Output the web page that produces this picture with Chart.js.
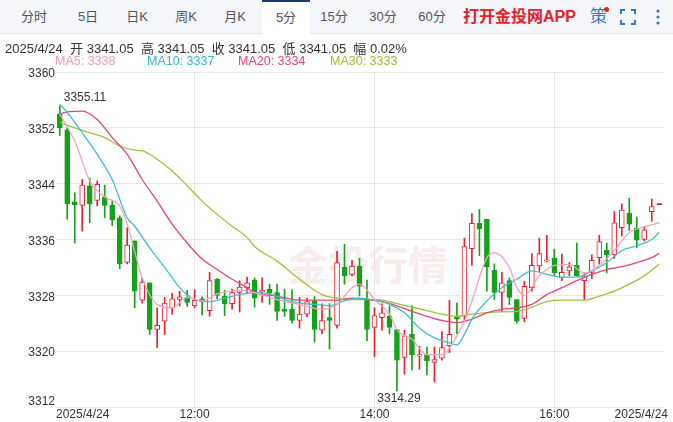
<!DOCTYPE html>
<html>
<head>
<meta charset="utf-8">
<script src="https://cdn.jsdelivr.net/npm/chart.js@4"></script>
<style>
  body { margin: 0; width: 673px; height: 422px; overflow: hidden; background: #fff;
         font-family: "Liberation Sans", "Noto Sans CJK SC", sans-serif; }
  #wrap { position: relative; width: 673px; height: 422px; }
  #chart { position: absolute; left: 0; top: 0; }
  .tabs { position: absolute; left: 0; top: 0; width: 673px; height: 33px; background: #f4f6fa;
          border-bottom: 1px solid #e3e7ee; z-index: 2; }
  .tab { position: absolute; top: 0; height: 33px; line-height: 34px; font-size: 13px; color: #555; text-align: center; }
  .tab.active { background: #fff; border-top: 2px solid #1e3a6a; height: 32px; line-height: 32px; }
  .app { position: absolute; left: 463px; top: 0; line-height: 34px; font-size: 16px; font-weight: bold; color: #e8202a; }
  .ce { position: absolute; left: 590px; top: 0; line-height: 34px; font-size: 17px; color: #3a76c8; }
  .dot { position: absolute; left: 604px; top: 7px; width: 5px; height: 5px; border-radius: 50%; background: #e8202a; }
  .info { position: absolute; left: 5px; top: 38px; font-size: 13px; color: #333; z-index: 2; }
  .ma { position: absolute; top: 54px; font-size: 12.5px; z-index: 2; }
</style>
</head>
<body>
<div id="wrap">
  <canvas id="chart" width="673" height="422"></canvas>
  <div class="tabs">
    <div class="tab" style="left:10px;width:48px">分时</div>
    <div class="tab" style="left:64px;width:48px">5日</div>
    <div class="tab" style="left:113px;width:48px">日K</div>
    <div class="tab" style="left:162px;width:48px">周K</div>
    <div class="tab" style="left:211px;width:48px">月K</div>
    <div class="tab active" style="left:262px;width:48px">5分</div>
    <div class="tab" style="left:310px;width:48px">15分</div>
    <div class="tab" style="left:359px;width:48px">30分</div>
    <div class="tab" style="left:408px;width:48px">60分</div>
    <div class="app">打开金投网APP</div>
    <div class="ce">策</div><div class="dot"></div>
    <svg style="position:absolute;left:620px;top:9px" width="16" height="16">
      <path d="M1 5V1h4M11 1h4v4M15 11v4h-4M5 15H1v-4" stroke="#3a76c8" stroke-width="2" fill="none"/>
    </svg>
    <svg style="position:absolute;left:655px;top:8px" width="6" height="18">
      <circle cx="3" cy="3" r="1.6" fill="#3a76c8"/><circle cx="3" cy="9" r="1.6" fill="#3a76c8"/><circle cx="3" cy="15" r="1.6" fill="#3a76c8"/>
    </svg>
  </div>
  <div class="info">2025/4/24&nbsp; 开 3341.05&nbsp; 高 3341.05&nbsp; 收 3341.05&nbsp; 低 3341.05&nbsp; 幅 0.02%</div>
  <div class="ma" style="left:55px;color:#f29bb6">MA5: 3338</div>
  <div class="ma" style="left:147px;color:#33b8c8">MA10: 3337</div>
  <div class="ma" style="left:238px;color:#e6457a">MA20: 3334</div>
  <div class="ma" style="left:330px;color:#9fbd35">MA30: 3333</div>
</div>
<script>
// 5-minute candles, 10:30 .. 17:10
const opens  = [3354,3351.7,3341.4,3340.9,3343.7,3341.6,3342.1,3340.9,3339.1,3332.7,3335.8,3327.3,3329.8,3323.1,3324.3,3326.2,3327.4,3327.7,3326.5,3327.5,
  3325.8,3330.3,3327.9,3326.8,3328.4,3329.1,3330.2,3328.5,3328.9,3328.4,3326,3326,3324.4,3325.3,3327.2,3323,3324.8,3323.7,3332,3331,
  3332.2,3327.4,3323.4,3324.8,3325,3323.1,3319.1,3322.4,3319.3,3319.5,3318.4,3319,3320.8,3324.9,3325.1,3334.7,3338.3,3338.9,3331.6,3328.4,
  3330.1,3327.4,3324.7,3329.1,3332.2,3332.9,3333.3,3330.5,3331.5,3332.3,3330.1,3331.3,3333.4,3334.5,3333.8,3337.7,3339.8,3337.6,3336,3340,3341.05];
const closes = [3352,3341.1,3341,3343.8,3341.1,3343.9,3340.9,3338.8,3332.5,3335.2,3328.6,3329.9,3323.1,3323.7,3326.9,3327.5,3327.8,3327,3327.3,3327.1,
  3330.1,3328,3326.8,3328.4,3329.2,3329.8,3327.6,3328.7,3328.3,3325.7,3325.7,3324.4,3325.3,3327.1,3323.1,3324.4,3324.4,3332.7,3330.8,3332.2,
  3329.3,3323.1,3325.1,3325.5,3323.4,3318.7,3322.2,3319.5,3319.5,3318.6,3318.8,3320.5,3322.4,3324.6,3335,3338.3,3337.5,3332.1,3328.4,3329.8,
  3327.7,3324.3,3329.3,3332.3,3334,3333.1,3331.2,3331.3,3332.1,3330.8,3330.8,3333,3335.7,3333.8,3338.4,3340.2,3338.2,3335.9,3337.4,3340.7,3341.05];
const highs  = [3355.11,3352,3342.7,3344.6,3344.8,3344.4,3343.8,3341.5,3339.4,3337.7,3335.8,3330.5,3329.8,3326.2,3327.7,3328.3,3328.6,3328.7,3328.8,3327.8,
  3331.3,3330.4,3328.7,3328.9,3330.1,3330.6,3330.5,3330.5,3329.6,3329.6,3328.9,3328.8,3327.7,3327.6,3327.8,3326.8,3326.8,3334.3,3335.3,3333,
  3333.3,3330.2,3326.2,3326.8,3326.5,3323.1,3323,3326.5,3320.7,3320.6,3320.6,3322.8,3327.3,3326.9,3336.2,3339.7,3340.3,3338.9,3332.5,3331.3,
  3330.5,3327.4,3330,3334,3336.2,3336.6,3334.6,3333.9,3332.7,3335.5,3331.2,3333.8,3336.6,3335.5,3340,3341.1,3341.9,3339.2,3337.8,3341.8,3341.05];
const lows   = [3350.9,3338.9,3335.5,3337.2,3338.4,3340.8,3339.1,3338,3331.8,3332.5,3326.2,3326.9,3322.4,3320.5,3322.4,3325.3,3326.5,3326.4,3326.2,3325.2,
  3325,3327.5,3325.1,3326,3325.6,3328.3,3326.3,3327,3326.7,3324.4,3325,3324,3323.3,3324.9,3321.3,3322.5,3320.3,3323.3,3329.6,3330.8,
  3327.9,3321.5,3319.2,3323,3322.5,3314.29,3316.7,3317.3,3317.4,3316.6,3315.6,3318.7,3319.8,3322.5,3324.3,3332.3,3333.7,3328.6,3327.4,3325.7,
  3326.7,3324,3324.2,3328.6,3331.4,3332.8,3330.8,3330.1,3330.8,3330.7,3327.4,3330.4,3332.5,3331.2,3333.3,3336.5,3337.3,3334.8,3335.8,3338.6,3341.05];

// moving averages: [candle number, value]
const ma5Points = [[1,3354],[3,3350.1],[5,3344.4],[7,3342.1],[9,3340.8],[10,3338.2],[12,3330.5],[14,3326.7],[16,3326.2],[18,3327.7],[20,3327.2],
  [22,3328.2],[25,3328.7],[27,3328.4],[30,3327.4],[33,3326.7],[36,3326],[38,3326.7],[40,3329.1],[41,3329.6],[43,3327.4],[45,3325.3],[46,3323.1],
  [48,3321.7],[50,3319.5],[52,3319.5],[54,3322.2],[55,3324.3],[56,3327.2],[58,3333.4],[59,3334.1],[61,3332],[62,3329.1],[63,3328],[65,3330.8],
  [67,3332.3],[69,3332.4],[71,3331.2],[73,3332.3],[75,3334.4],[77,3337],[79,3337.8],[81,3338.4]];
const ma10Points = [[1,3355.4],[2,3354.2],[4,3351.3],[6,3348.2],[8,3344.6],[10,3339.1],[11,3337.9],[13,3334.8],[15,3332],[17,3329.1],[19,3327.4],
  [21,3327.1],[23,3327.6],[25,3328.1],[27,3328.4],[29,3328.2],[31,3327.4],[33,3326.9],[35,3326.7],[37,3326.5],[39,3327.2],[41,3327.6],[43,3327.3],
  [45,3326.7],[47,3325.5],[49,3323.3],[51,3321.9],[53,3321.2],[54,3320.9],[55,3322.4],[56,3324.6],[58,3327.2],[60,3329.1],[62,3330.3],[64,3331.5],
  [66,3331],[68,3330.6],[70,3330.6],[72,3331.5],[74,3332.7],[76,3334.4],[78,3335.1],[80,3336],[81,3337]];
const ma20Points = [[1,3354],[2,3354.3],[4,3354.4],[6,3353.2],[8,3350.6],[10,3348.2],[12,3344.6],[14,3341.5],[16,3338.2],[18,3335.5],[20,3333.2],
  [22,3331.7],[24,3330.3],[26,3329.1],[27,3328.4],[30,3327.9],[33,3327.3],[36,3327.3],[38,3327.3],[40,3327.6],[42,3327.4],[44,3327.1],[46,3326.5],
  [48,3325.7],[50,3325],[52,3324.4],[54,3324.1],[56,3324.6],[58,3325.5],[60,3326],[62,3326.2],[64,3326.7],[66,3328.1],[68,3329.1],[70,3330.1],
  [72,3331],[74,3331.7],[76,3332.1],[78,3332.7],[80,3333.4],[81,3334]];
const ma30Points = [[1,3352.8],[3,3352],[5,3351.3],[7,3350.6],[9,3349.4],[11,3348.8],[12,3348.7],[14,3347.5],[16,3345.8],[18,3343.7],[20,3341.5],
  [22,3339.6],[24,3337.9],[26,3336.3],[27,3335],[30,3332.9],[33,3330.3],[36,3328.1],[38,3327.6],[40,3327.4],[42,3327.4],[44,3327.3],[46,3326.8],
  [48,3326.3],[50,3325.8],[52,3325.3],[54,3325],[56,3325.3],[59,3325.6],[62,3325.7],[64,3326.3],[66,3327.1],[68,3327.3],[71,3327.3],[73,3327.9],
  [75,3328.6],[77,3329.6],[79,3330.8],[81,3332.5]];

const yTicks = [3312, 3320, 3328, 3336, 3344, 3352, 3360];
const timeMarks = [[19, '12:00'], [43, '14:00'], [67, '16:00']];
const dateLabel = '2025/4/24';

const UP = '#e8202a', DOWN = '#13a21a';

// 10:30 + 5 min per candle
const labels = opens.map((o, i) => {
    const m = 10 * 60 + 30 + i * 5;
    return Math.floor(m / 60) + ':' + String(m % 60).padStart(2, '0');
});

function spread(points) {
    const arr = new Array(opens.length).fill(null);
    points.forEach(p => { arr[p[0] - 1] = p[1]; });
    return arr;
}

const bodies = opens.map((o, i) => {
    const c = closes[i];
    if (Math.abs(o - c) < 0.15) return [Math.min(o, c) - 0.08, Math.max(o, c) + 0.08];
    return [o, c];
});
const wicks = lows.map((l, i) => [l, highs[i]]);
const isUp = opens.map((o, i) => closes[i] >= o);

function maLine(label, points, color) {
    return {
        type: 'line', label: label, data: spread(points), borderColor: color, borderWidth: 1.3,
        pointRadius: 0, tension: 0.4, cubicInterpolationMode: 'monotone', spanGaps: true, order: 1
    };
}

// overlay texts: axis labels, extremes, watermark
const overlay = {
    id: 'overlay',
    beforeDatasetsDraw(chart) {
        const ctx = chart.ctx;
        ctx.save();
        ctx.font = 'bold 40px "Noto Sans CJK SC"';
        ctx.fillStyle = 'rgba(235,200,200,0.35)';
        ctx.textAlign = 'center';
        ctx.textBaseline = 'middle';
        ctx.fillText('金投行情', 368, 265);
        ctx.restore();
    },
    afterDraw(chart) {
        const ctx = chart.ctx;
        const x = chart.scales.x, y = chart.scales.y;
        ctx.save();
        ctx.font = '12px "Liberation Sans", sans-serif';
        ctx.fillStyle = '#333';
        ctx.textAlign = 'right';
        ctx.textBaseline = 'middle';
        yTicks.forEach(v => {
            let py = y.getPixelForValue(v);
            if (v === yTicks[0]) py -= 7;
            ctx.fillText(String(v), 55, py + 2);
        });
        ctx.textBaseline = 'top';
        ctx.textAlign = 'center';
        timeMarks.forEach(t => ctx.fillText(t[1], x.getPixelForValue(t[0] - 1), 409));
        ctx.textAlign = 'left';
        ctx.fillText(dateLabel, 56, 409);
        ctx.textAlign = 'right';
        ctx.fillText(dateLabel, 668, 409);

        const hi = Math.max(...highs), lo = Math.min(...lows);
        const hiI = highs.indexOf(hi), loI = lows.indexOf(lo);
        ctx.textAlign = 'left';
        ctx.textBaseline = 'bottom';
        ctx.fillText(hi.toFixed(2), x.getPixelForValue(hiI) + 4, y.getPixelForValue(hi) - 2);
        ctx.textAlign = 'center';
        ctx.textBaseline = 'top';
        ctx.fillText(lo.toFixed(2), x.getPixelForValue(loI) + 2, y.getPixelForValue(lo) + 2);

        // flat last candle marker
        const lx = x.getPixelForValue(opens.length - 1), ly = y.getPixelForValue(closes[closes.length - 1]);
        ctx.strokeStyle = '#333';
        ctx.beginPath(); ctx.moveTo(lx - 2, ly); ctx.lineTo(lx + 2, ly); ctx.stroke();
        ctx.restore();
    }
};

new Chart(document.getElementById('chart'), {
    type: 'bar',
    data: {
        labels: labels,
        datasets: [
            maLine('MA5', ma5Points, '#f4a3bc'),
            maLine('MA10', ma10Points, '#3ec0d0'),
            maLine('MA20', ma20Points, '#e6457a'),
            maLine('MA30', ma30Points, '#a3bf38'),
            {
                label: 'body', data: bodies, grouped: false, barThickness: 5, order: 2,
                backgroundColor: isUp.map(u => u ? '#ffffff' : DOWN),
                borderColor: isUp.map(u => u ? UP : DOWN),
                borderWidth: 1, borderSkipped: false
            },
            {
                label: 'wick', data: wicks, grouped: false, barThickness: 1, order: 3,
                backgroundColor: isUp.map(u => u ? UP : DOWN), borderWidth: 0
            }
        ]
    },
    options: {
        responsive: false,
        animation: false,
        layout: { padding: { left: 56, right: 10, top: 72, bottom: 15 } },
        plugins: { legend: { display: false }, tooltip: { enabled: false } },
        scales: {
            x: {
                offset: true,
                ticks: { display: false },
                border: { display: false },
                grid: {
                    drawTicks: false, offset: false,
                    color: ctx => timeMarks.some(t => t[0] - 1 === ctx.index) ? '#e6e6e6' : 'transparent'
                }
            },
            y: {
                min: 3312, max: 3360,
                afterFit: s => { s.width = 0; },
                ticks: { display: false, stepSize: 8 },
                border: { display: false },
                grid: { drawTicks: false, color: '#e8e8e8' }
            }
        }
    },
    plugins: [overlay]
});
</script>
</body>
</html>
